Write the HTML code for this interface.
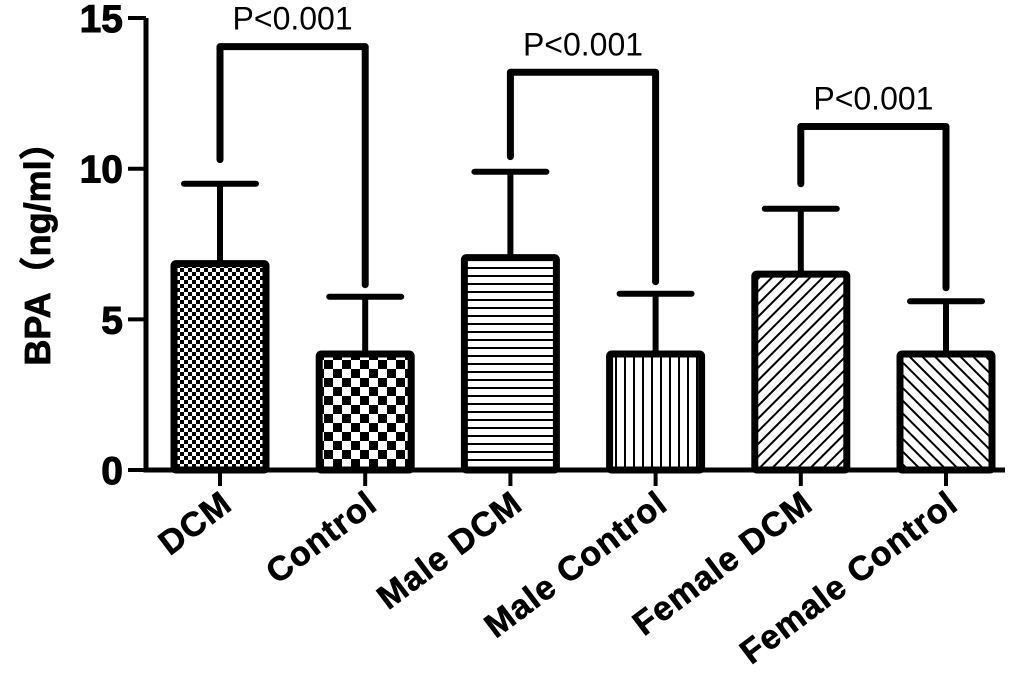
<!DOCTYPE html>
<html><head><meta charset="utf-8"><style>body{margin:0;background:#fff}svg{display:block}text{font-family:"Liberation Sans","Noto Sans CJK SC",sans-serif;fill:#000}</style></head>
<body>
<svg id="chart" width="1024" height="698" viewBox="0 0 1024 698" xmlns="http://www.w3.org/2000/svg">
<defs>
<pattern id="p0" width="8" height="8" patternUnits="userSpaceOnUse"><rect width="8" height="8" fill="#fff"/><rect width="4" height="4" fill="#000"/><rect x="4" y="4" width="4" height="4" fill="#000"/></pattern>
<pattern id="p1" width="18" height="18" patternUnits="userSpaceOnUse"><rect width="18" height="18" fill="#fff"/><rect width="9" height="9" fill="#000"/><rect x="9" y="9" width="9" height="9" fill="#000"/></pattern>
<pattern id="p2" width="8" height="8" patternUnits="userSpaceOnUse"><rect width="8" height="8" fill="#fff"/><rect y="3" width="8" height="2" fill="#000"/></pattern>
<pattern id="p3" width="9" height="9" patternUnits="userSpaceOnUse"><rect width="9" height="9" fill="#fff"/><rect x="3" width="2" height="9" fill="#000"/></pattern>
<pattern id="p4" width="9" height="9" patternUnits="userSpaceOnUse" patternTransform="rotate(45)"><rect width="9" height="9" fill="#fff"/><rect x="3" width="2" height="9" fill="#000"/></pattern>
<pattern id="p5" width="9" height="9" patternUnits="userSpaceOnUse" patternTransform="rotate(-45)"><rect width="9" height="9" fill="#fff"/><rect x="3" width="2" height="9" fill="#000"/></pattern>
</defs>
<g id="plot"></g>
</svg>
<script>
const categories=["DCM","Control","Male DCM","Male Control","Female DCM","Female Control"];
const means=[6.85,3.85,7.05,3.85,6.5,3.85];
const errTops=[9.5,5.75,9.9,5.85,8.67,5.6];
const yTicks=[0,5,10,15];
const brackets=[[0,1,14.05,10.3,6.15],[2,3,13.2,10.4,6.25],[4,5,11.4,9.5,6.05]];
const bracketLabels=["P<0.001","P<0.001","P<0.001"];
const NS="http://www.w3.org/2000/svg";
const g=document.getElementById('plot');
const y=v=>470-v*30.13;
const cx=i=>220+i*145.2;
function mk(t,a,p){const e=document.createElementNS(NS,t);for(const k in a)e.setAttribute(k,a[k]);(p||g).appendChild(e);return e;}
let ax=mk('path',{d:'M146 18 V470 H1005',fill:'none',stroke:'#000','stroke-width':5});


yTicks.forEach(v=>{
 let t=mk('line',{x1:128,x2:146,y1:y(v),y2:y(v),stroke:'#000','stroke-width':4});
 
 
 let l=mk('text',{x:123,y:y(v)+14,'text-anchor':'end','font-size':39,'font-weight':'bold','stroke':'#000','stroke-width':1});l.textContent=v;
 
 
});
let yt=mk('text',{transform:'translate(50,245) rotate(-90)','text-anchor':'middle','font-size':36,'font-weight':'bold','stroke':'#000','stroke-width':0.8});
yt.textContent='BPA（ng/ml）';


categories.forEach((c,i)=>{
 const x=cx(i);
 let e=mk('path',{d:`M${x} ${y(means[i])} V${y(errTops[i])} M${x-36} ${y(errTops[i])} H${x+36}`,stroke:'#000','stroke-width':6,'stroke-linecap':'round',fill:'none'});
 
 
 let b=mk('rect',{x:x-46,y:y(means[i]),width:92,height:470-y(means[i]),fill:`url(#p${i})`,stroke:'#000','stroke-width':7,rx:2});
 
 
 let tk=mk('line',{x1:x,x2:x,y1:470,y2:486,stroke:'#000','stroke-width':4});
 
 
 let l=mk('text',{transform:`translate(${x+14},508) rotate(-37)`,'text-anchor':'end','font-size':34,'font-weight':'bold','letter-spacing':1,'stroke':'#000','stroke-width':0.6});l.textContent=c;
 
 
});
brackets.forEach((br,k)=>{
 const [a,b,top,la,lb]=br;const x1=cx(a),x2=cx(b);
 let p=mk('path',{d:`M${x1} ${y(la)} V${y(top)} H${x2} V${y(lb)}`,fill:'none',stroke:'#000','stroke-width':7,'stroke-linecap':'round','stroke-linejoin':'round'});
 
 
 let t=mk('text',{x:(x1+x2)/2,y:y(top)-17,'text-anchor':'middle','font-size':32});t.textContent=bracketLabels[k];
 
 
});
</script>
</body></html>
